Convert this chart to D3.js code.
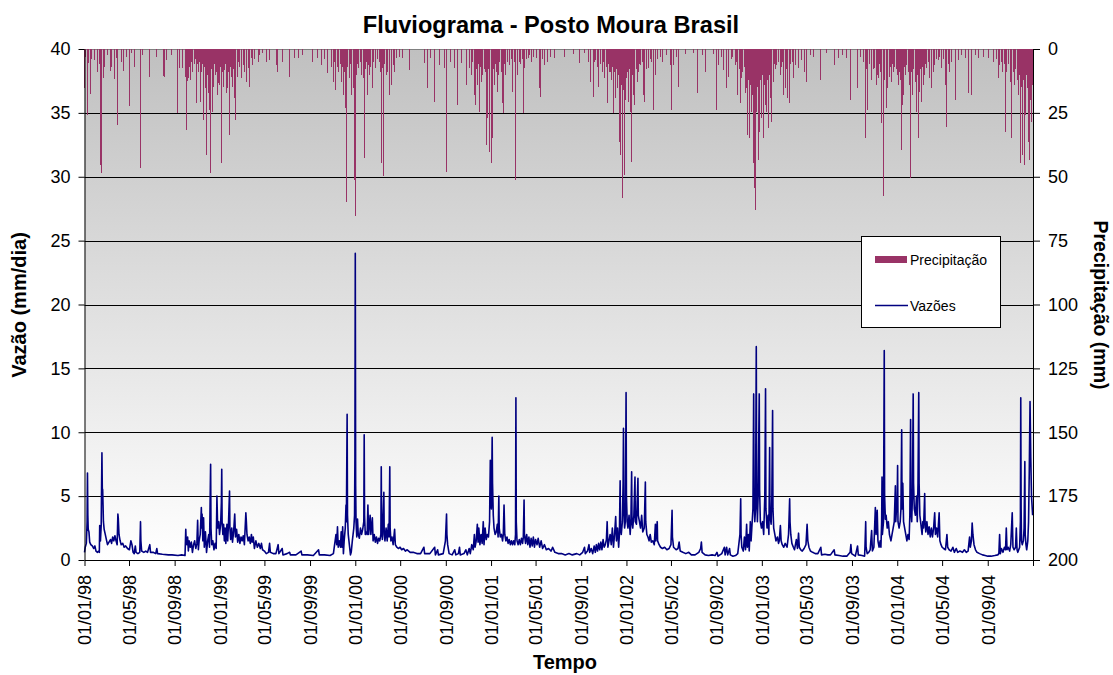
<!DOCTYPE html>
<html><head><meta charset="utf-8">
<script src="https://cdn.jsdelivr.net/npm/d3@7"></script>
<style>body{margin:0;background:#fff} text{font-family:Arial,"Liberation Sans",sans-serif}</style>
</head><body><svg id="c" width="1113" height="675"></svg>
<script>
// ---------------- DATA ----------------
const chartTitle = "Fluviograma - Posto Moura Brasil";
const leftTitle = "Vazão (mm/dia)";
const rightTitle = "Precipitação (mm)";
const xTitle = "Tempo";
const seriesNames = ["Precipitação", "Vazões"];
const leftTicks = [0,5,10,15,20,25,30,35,40];
const rightTicks = [0,25,50,75,100,125,150,175,200];

// Vazões (mm/dia), [MM-DD, value] per year
const flow1998 = [["01-01",0.6],["01-03",1.0],["01-06",1.3],["01-08",3.0],["01-09",6.8],["01-10",3.5],["01-11",2.4],["01-13",2.2],["01-15",1.4],["01-18",1.2],["01-22",1.1],["01-26",0.9],["01-29",1.1],["02-01",0.7],["02-05",0.6],["02-08",0.7],["02-10",0.6],["02-11",2.7],["02-13",1.5],["02-15",2.7],["02-17",8.4],["02-18",5.6],["02-19",5.5],["02-20",4.3],["02-21",3.0],["02-23",2.4],["02-26",2.0],["03-01",1.6],["03-04",1.2],["03-08",1.4],["03-12",1.6],["03-15",1.3],["03-18",1.8],["03-21",1.5],["03-24",1.9],["03-27",1.5],["03-30",1.2],["04-01",3.6],["04-02",3.3],["04-04",2.0],["04-07",1.5],["04-10",1.2],["04-14",1.3],["04-18",1.0],["04-22",1.1],["04-27",0.9],["05-02",0.8],["05-06",1.5],["05-09",1.2],["05-12",0.6],["05-15",0.5],["05-18",1.1],["05-20",0.6],["05-25",0.5],["05-30",0.6],["06-01",3.0],["06-02",1.5],["06-04",0.7],["06-10",0.6],["06-15",0.7],["06-20",0.6],["06-26",1.2],["06-28",0.6],["07-05",0.6],["07-12",0.5],["07-15",0.9],["07-17",0.5],["07-30",0.45],["08-15",0.4],["08-25",0.4],["09-10",0.35],["09-20",0.4],["09-29",0.35],["10-01",2.4],["10-02",1.6],["10-04",1.2],["10-06",1.8],["10-08",0.7],["10-10",1.5],["10-13",1.0],["10-16",1.4],["10-19",0.6],["10-22",1.2],["10-25",1.5],["10-28",0.9],["10-31",1.3],["11-02",3.1],["11-04",0.8],["11-06",1.5],["11-09",2.0],["11-12",4.1],["11-13",2.5],["11-14",3.6],["11-16",1.5],["11-18",3.3],["11-20",1.0],["11-23",2.2],["11-26",0.6],["11-29",1.5],["12-02",2.0],["12-04",1.0],["12-07",7.5],["12-08",2.5],["12-10",1.2],["12-13",1.5],["12-16",0.8],["12-19",1.3],["12-22",0.9],["12-24",5.0],["12-26",2.5],["12-29",3.0],["12-31",2.0]];
const flow1999 = [["01-03",2.8],["01-05",4.5],["01-06",7.1],["01-07",3.0],["01-09",2.0],["01-11",2.8],["01-13",1.5],["01-15",2.5],["01-17",1.3],["01-20",2.8],["01-22",1.5],["01-24",2.7],["01-27",5.4],["01-28",2.5],["01-30",1.6],["02-02",2.5],["02-04",1.4],["02-07",2.2],["02-10",3.6],["02-12",1.8],["02-15",2.4],["02-18",1.4],["02-21",2.0],["02-24",1.3],["02-27",1.8],["03-02",1.5],["03-05",1.9],["03-08",1.2],["03-12",3.7],["03-13",3.2],["03-15",2.0],["03-18",1.5],["03-21",1.8],["03-24",1.3],["03-27",2.0],["03-29",1.4],["04-01",1.8],["04-04",0.9],["04-08",1.5],["04-12",1.0],["04-16",1.3],["04-20",0.9],["04-23",1.3],["04-26",0.8],["05-01",0.7],["05-06",0.5],["05-12",0.6],["05-15",1.3],["05-17",0.6],["05-25",0.5],["06-01",0.5],["06-07",1.2],["06-09",0.5],["06-18",0.9],["06-20",0.4],["07-01",0.5],["07-08",0.6],["07-10",0.4],["07-25",0.4],["08-08",0.7],["08-10",0.4],["08-25",0.4],["09-10",0.35],["09-24",0.8],["09-26",0.4],["10-10",0.4],["10-25",0.35],["11-03",0.5],["11-10",2.0],["11-12",1.2],["11-14",2.6],["11-16",1.0],["11-19",1.5],["11-22",1.0],["11-24",2.2],["11-26",1.0],["11-28",2.6],["11-30",0.5],["12-02",1.5],["12-05",2.5],["12-07",4.3],["12-08",3.0],["12-10",11.4],["12-11",3.5],["12-13",2.0],["12-16",1.2],["12-19",0.4],["12-21",0.6],["12-24",1.5],["12-28",2.5],["12-30",3.5],["12-31",8.0]];
const flow2000 = [["01-01",24.0],["01-02",5.8],["01-03",3.0],["01-05",1.8],["01-07",3.2],["01-09",2.0],["01-12",1.7],["01-15",2.5],["01-18",2.0],["01-21",2.4],["01-24",3.0],["01-25",9.8],["01-26",3.5],["01-28",2.0],["01-30",2.2],["02-02",2.0],["02-04",4.3],["02-06",2.0],["02-10",3.5],["02-12",2.0],["02-16",3.3],["02-18",1.5],["02-21",2.0],["02-24",1.4],["02-27",1.8],["03-01",1.3],["03-04",1.7],["03-07",1.5],["03-10",2.0],["03-11",7.3],["03-12",2.5],["03-14",1.6],["03-18",5.3],["03-19",2.0],["03-21",1.5],["03-24",2.5],["03-27",1.5],["03-30",2.8],["04-01",1.8],["04-03",7.3],["04-04",2.5],["04-06",1.5],["04-09",1.8],["04-12",1.2],["04-16",2.4],["04-18",1.2],["04-22",1.0],["04-26",0.9],["05-01",1.0],["05-05",0.8],["05-10",0.9],["05-15",0.7],["05-20",0.8],["05-28",0.6],["06-05",0.6],["06-15",0.5],["06-25",0.5],["07-04",1.0],["07-06",0.5],["07-20",0.5],["08-02",1.0],["08-04",0.4],["08-10",0.8],["08-12",0.4],["08-25",0.5],["08-31",1.5],["09-03",3.6],["09-04",2.0],["09-06",1.2],["09-10",0.5],["09-18",0.4],["09-25",0.8],["09-28",0.4],["10-05",0.5],["10-08",1.0],["10-10",0.4],["10-20",0.5],["10-25",0.8],["10-29",0.4],["11-03",0.9],["11-06",0.5],["11-10",1.2],["11-14",0.8],["11-17",2.0],["11-19",1.0],["11-22",1.5],["11-25",2.8],["11-27",1.4],["11-29",2.5],["12-02",1.2],["12-05",2.0],["12-08",1.3],["12-11",3.0],["12-13",1.2],["12-16",2.5],["12-19",1.6],["12-22",2.0],["12-25",1.8],["12-28",3.0],["12-30",7.8],["12-31",5.0]];
const flow2001 = [["01-02",4.0],["01-04",9.6],["01-05",6.0],["01-07",3.5],["01-09",2.5],["01-12",2.0],["01-15",2.2],["01-18",2.8],["01-20",1.8],["01-22",5.0],["01-23",2.5],["01-26",1.8],["01-29",2.0],["02-01",1.5],["02-03",2.0],["02-05",4.3],["02-07",2.0],["02-10",1.5],["02-13",1.8],["02-16",1.3],["02-19",1.6],["02-22",1.2],["02-25",1.5],["02-28",1.2],["03-03",1.5],["03-06",1.2],["03-08",2.0],["03-09",12.7],["03-10",3.0],["03-12",1.5],["03-15",1.2],["03-18",1.6],["03-21",1.2],["03-24",1.7],["03-27",1.3],["03-29",1.8],["03-31",4.7],["04-01",2.0],["04-04",1.3],["04-07",2.0],["04-10",1.2],["04-13",1.8],["04-16",1.0],["04-19",1.7],["04-22",1.1],["04-25",1.8],["04-28",1.0],["05-01",1.6],["05-05",1.2],["05-08",1.7],["05-12",1.0],["05-16",1.5],["05-20",0.9],["05-25",1.2],["05-30",0.8],["06-05",0.9],["06-12",0.7],["06-16",1.0],["06-22",0.6],["07-01",0.5],["07-10",0.5],["07-20",0.4],["07-30",0.5],["08-08",0.4],["08-20",0.5],["08-28",0.4],["09-05",0.6],["09-10",1.0],["09-12",0.5],["09-18",0.7],["09-22",1.2],["09-24",0.6],["09-28",0.9],["10-02",0.5],["10-06",1.1],["10-09",0.6],["10-12",1.2],["10-15",0.7],["10-18",1.3],["10-21",0.8],["10-24",1.4],["10-27",0.8],["10-30",1.6],["11-02",1.0],["11-05",1.2],["11-08",1.6],["11-10",3.0],["11-12",1.0],["11-15",1.5],["11-18",2.0],["11-21",1.2],["11-24",2.5],["11-27",1.0],["11-30",2.0],["12-03",3.4],["12-05",1.5],["12-08",2.5],["12-11",1.0],["12-13",2.0],["12-15",6.2],["12-16",2.5],["12-18",2.0],["12-21",3.0],["12-23",6.0],["12-24",10.3],["12-25",4.0],["12-27",2.5],["12-29",3.0],["12-31",13.1]];
const flow2002 = [["01-01",5.0],["01-03",3.0],["01-05",2.5],["01-08",3.5],["01-11",2.0],["01-13",3.0],["01-15",6.9],["01-16",3.0],["01-18",2.5],["01-21",3.5],["01-24",6.5],["01-25",3.0],["01-28",2.8],["02-01",6.4],["02-02",3.5],["02-05",3.0],["02-08",2.5],["02-11",3.5],["02-14",2.2],["02-18",2.5],["02-21",6.1],["02-22",3.0],["02-25",2.0],["02-28",1.8],["03-03",1.5],["03-06",2.0],["03-09",1.4],["03-13",1.5],["03-17",1.2],["03-20",2.8],["03-21",1.5],["03-25",3.0],["03-26",1.5],["03-30",1.2],["04-03",1.0],["04-08",0.9],["04-14",1.0],["04-20",0.8],["04-26",0.9],["05-01",1.2],["05-04",3.9],["05-05",1.8],["05-08",1.0],["05-15",0.8],["05-20",0.9],["05-23",1.4],["05-26",0.7],["06-02",0.6],["06-10",0.5],["06-18",0.6],["06-25",0.4],["07-05",0.4],["07-15",0.6],["07-20",0.9],["07-22",1.4],["07-24",0.6],["08-01",0.4],["08-10",0.35],["08-20",0.4],["08-28",0.35],["09-02",0.6],["09-05",0.3],["09-15",0.5],["09-22",1.0],["09-24",0.4],["09-28",1.0],["10-01",0.4],["10-06",0.9],["10-08",0.4],["10-15",0.3],["10-22",0.35],["10-28",0.5],["11-01",1.5],["11-03",2.0],["11-05",4.8],["11-06",2.0],["11-08",1.0],["11-12",0.7],["11-15",1.8],["11-18",0.8],["11-21",2.8],["11-23",1.0],["11-26",2.0],["11-28",0.7],["12-01",3.0],["12-03",1.5],["12-05",2.5],["12-08",4.0],["12-10",13.0],["12-11",5.0],["12-13",3.0],["12-15",4.0],["12-17",16.7],["12-18",6.0],["12-20",3.0],["12-22",5.0],["12-25",13.0],["12-26",5.5],["12-28",3.0],["12-31",2.5]];
const flow2003 = [["01-03",3.0],["01-06",2.0],["01-09",5.0],["01-11",13.4],["01-12",4.0],["01-15",2.5],["01-18",3.5],["01-20",2.0],["01-22",8.8],["01-23",3.5],["01-26",2.8],["01-28",5.0],["01-30",11.7],["01-31",4.0],["02-02",2.5],["02-05",2.0],["02-08",1.5],["02-12",1.8],["02-15",1.3],["02-17",1.5],["02-20",2.7],["02-22",1.5],["02-25",1.2],["03-01",1.0],["03-05",1.3],["03-10",1.0],["03-14",2.0],["03-17",4.8],["03-18",3.0],["03-20",2.0],["03-23",1.3],["03-27",1.0],["03-30",0.8],["04-04",1.6],["04-07",0.9],["04-10",2.1],["04-12",1.0],["04-16",0.8],["04-20",0.7],["04-25",0.9],["04-30",1.2],["05-03",2.8],["05-05",1.5],["05-08",1.0],["05-12",0.7],["05-18",0.6],["05-25",0.5],["06-01",0.5],["06-09",1.0],["06-11",0.4],["06-20",0.45],["06-28",0.4],["07-05",0.4],["07-15",0.8],["07-17",0.4],["07-28",0.35],["08-08",0.3],["08-18",0.3],["08-27",0.6],["08-29",1.2],["08-31",0.5],["09-10",0.3],["09-16",1.1],["09-18",0.4],["09-28",0.35],["10-05",0.3],["10-06",1.0],["10-08",3.0],["10-09",1.0],["10-12",0.5],["10-16",0.6],["10-20",0.8],["10-24",2.3],["10-26",0.7],["10-30",1.0],["11-03",4.1],["11-05",2.0],["11-08",3.9],["11-10",1.5],["11-13",1.0],["11-16",1.5],["11-18",1.0],["11-20",3.0],["11-21",6.5],["11-22",2.0],["11-25",3.0],["11-27",16.4],["11-28",5.0],["11-30",3.2],["12-02",3.5],["12-05",2.5],["12-08",3.0],["12-11",2.0],["12-15",1.5],["12-18",2.0],["12-21",2.5],["12-24",3.0],["12-27",5.8],["12-28",3.0],["12-30",4.0]];
const flow2004 = [["01-01",5.0],["01-02",7.4],["01-03",3.0],["01-06",2.5],["01-09",3.0],["01-11",4.0],["01-13",10.2],["01-14",4.0],["01-16",6.0],["01-18",3.0],["01-21",2.5],["01-24",2.0],["01-27",1.5],["01-30",2.0],["02-02",1.6],["02-04",3.5],["02-06",11.0],["02-07",4.0],["02-09",3.0],["02-11",5.0],["02-13",13.0],["02-14",6.0],["02-16",4.0],["02-19",3.5],["02-22",5.0],["02-24",3.0],["02-26",6.0],["02-28",13.1],["02-29",6.0],["03-02",3.5],["03-04",3.0],["03-06",2.5],["03-08",2.0],["03-10",3.0],["03-12",2.5],["03-15",5.2],["03-16",3.0],["03-18",2.2],["03-21",3.0],["03-24",2.0],["03-27",2.6],["03-30",1.8],["04-02",2.5],["04-05",1.8],["04-08",2.5],["04-11",3.7],["04-13",2.0],["04-16",2.5],["04-19",1.8],["04-23",3.7],["04-25",1.5],["04-28",1.2],["05-01",1.0],["05-05",0.9],["05-10",0.8],["05-14",2.0],["05-16",1.0],["05-20",0.8],["05-25",0.7],["05-30",1.0],["06-03",0.6],["06-08",0.9],["06-12",0.6],["06-18",0.7],["06-25",0.6],["06-30",0.8],["07-05",0.6],["07-10",0.7],["07-14",1.8],["07-16",1.0],["07-19",1.5],["07-21",2.9],["07-23",2.0],["07-26",1.2],["07-30",0.8],["08-03",0.6],["08-10",0.5],["08-18",0.4],["08-25",0.35],["09-01",0.3],["09-10",0.3],["09-20",0.35],["09-28",0.4],["10-01",0.5],["10-03",2.0],["10-05",0.5],["10-08",0.9],["10-12",0.6],["10-16",1.0],["10-19",0.8],["10-21",2.5],["10-23",0.8],["10-26",1.0],["10-30",0.7],["11-02",1.2],["11-06",3.7],["11-08",1.0],["11-11",0.8],["11-15",1.0],["11-17",2.5],["11-19",0.8],["11-21",0.6],["11-26",1.0],["11-28",3.0],["11-29",12.7],["11-30",4.0],["12-01",1.5],["12-03",1.2],["12-06",1.5],["12-08",2.5],["12-10",7.7],["12-11",2.0],["12-13",1.2],["12-15",0.8],["12-18",1.5],["12-20",3.0],["12-22",7.0],["12-24",12.4],["12-26",8.0],["12-28",5.0],["12-31",3.5]];

// Precipitação (mm), [MM-DD, value] per year
const rain1998 = [["01-02",15.4],["01-05",3.0],["01-08",25.8],["01-12",5.6],["01-17",17.7],["01-20",4.0],["01-27",4.3],["02-06",8.9],["02-10",6.0],["02-12",45.4],["02-14",12.0],["02-16",48.7],["02-17",33.0],["02-20",11.3],["02-23",6.9],["03-05",2.5],["03-13",8.8],["03-15",6.9],["03-22",11.9],["03-24",5.6],["03-28",3.5],["04-01",29.7],["04-10",5.0],["04-17",8.8],["04-24",3.0],["05-03",22.3],["05-09",1.7],["05-16",6.9],["05-31",46.7],["06-06",2.3],["06-24",10.8],["07-14",3.0],["08-03",10.5],["08-05",10.8],["08-10",4.4],["08-23",2.3],["09-10",25.2],["09-15",7.6],["09-22",7.6],["09-29",10.8],["10-01",8.0],["10-03",13.5],["10-04",31.7],["10-06",12.5],["10-09",11.3],["10-11",6.9],["10-14",12.0],["10-17",5.0],["10-20",9.0],["10-24",6.0],["10-27",4.0],["10-31",21.3],["11-02",6.0],["11-05",8.9],["11-08",5.0],["11-10",20.7],["11-13",9.0],["11-15",6.0],["11-18",27.8],["11-20",7.0],["11-22",15.1],["11-24",9.0],["11-26",41.5],["11-28",10.0],["12-01",17.3],["12-04",23.9],["12-06",48.7],["12-09",8.0],["12-11",12.0],["12-13",24.5],["12-15",14.7],["12-18",6.0],["12-20",10.2],["12-23",9.0],["12-26",18.0],["12-29",13.5]];
const rain1999 = [["01-01",14.1],["01-03",7.0],["01-06",44.7],["01-08",9.0],["01-10",14.7],["01-14",8.2],["01-16",6.0],["01-18",17.3],["01-22",15.4],["01-24",9.0],["01-27",33.7],["01-29",7.0],["01-31",10.8],["02-03",6.0],["02-05",14.7],["02-08",8.0],["02-10",19.3],["02-13",27.8],["02-17",10.8],["02-20",5.0],["02-24",7.0],["02-28",11.5],["03-05",6.3],["03-09",8.9],["03-13",12.8],["03-18",7.6],["03-22",14.7],["03-26",3.7],["03-31",6.3],["04-05",4.0],["04-14",5.0],["04-18",2.3],["04-27",1.7],["05-06",5.0],["05-15",4.3],["06-02",6.3],["06-06",8.9],["06-20",5.0],["07-07",10.8],["07-22",3.7],["07-31",3.7],["08-13",2.3],["09-08",5.0],["09-22",3.7],["10-01",6.3],["10-10",4.0],["10-19",9.5],["10-28",6.9],["11-04",12.8],["11-07",5.0],["11-10",16.0],["11-14",7.0],["11-17",8.9],["11-21",6.0],["11-24",12.8],["11-27",7.0],["11-30",18.0],["12-02",9.0],["12-05",23.2],["12-07",8.0],["12-09",59.8],["12-12",7.0],["12-16",11.5],["12-19",6.0],["12-22",18.0],["12-27",15.4],["12-30",51.3]];
const rain2000 = [["01-01",65.2],["01-03",9.0],["01-05",10.2],["01-08",6.0],["01-11",7.6],["01-14",5.0],["01-18",10.2],["01-22",11.5],["01-25",42.8],["01-28",8.0],["01-31",5.0],["02-03",18.0],["02-06",6.3],["02-09",10.2],["02-12",7.0],["02-16",15.4],["02-20",5.0],["02-25",7.6],["03-01",4.0],["03-05",5.0],["03-08",9.0],["03-11",44.7],["03-15",7.6],["03-18",49.6],["03-21",6.0],["03-24",10.2],["03-28",8.9],["04-03",18.0],["04-07",14.1],["04-12",6.3],["04-16",9.0],["04-20",3.7],["04-28",3.0],["05-08",3.7],["05-26",8.2],["07-05",5.6],["07-14",15.4],["07-23",3.7],["08-01",20.6],["08-15",6.3],["08-29",7.6],["09-02",48.0],["09-15",5.0],["09-24",7.6],["10-03",21.9],["10-12",5.6],["10-26",14.1],["11-04",7.6],["11-08",10.2],["11-12",5.0],["11-17",18.0],["11-21",21.9],["11-24",8.0],["11-26",14.1],["11-28",6.0],["12-01",24.5],["12-03",7.0],["12-05",12.8],["12-07",5.0],["12-10",10.2],["12-13",8.0],["12-16",9.0],["12-19",37.6],["12-21",10.0],["12-23",27.1],["12-25",8.0],["12-28",40.2]];
const rain2001 = [["01-03",44.7],["01-04",35.0],["01-07",8.0],["01-10",14.1],["01-13",6.0],["01-16",9.0],["01-19",16.7],["01-22",10.0],["01-25",5.0],["01-28",8.9],["02-01",21.3],["02-04",25.2],["02-07",6.0],["02-10",10.2],["02-14",5.0],["02-19",6.3],["02-24",4.0],["02-28",16.7],["03-04",5.0],["03-09",51.3],["03-14",10.2],["03-18",5.0],["03-22",6.0],["03-26",4.0],["03-30",25.2],["04-02",7.6],["04-06",4.0],["04-11",3.7],["04-15",2.5],["04-20",5.0],["04-26",3.0],["05-03",3.7],["05-11",15.4],["05-15",18.7],["05-20",4.0],["05-25",6.3],["06-02",5.0],["06-10",3.0],["06-20",3.7],["07-17",3.0],["08-10",2.0],["08-27",5.6],["09-09",1.7],["09-22",5.0],["09-26",12.8],["10-03",18.7],["10-06",5.0],["10-10",4.3],["10-14",7.0],["10-19",14.7],["10-23",6.0],["10-28",8.9],["11-01",5.0],["11-04",11.5],["11-07",7.0],["11-10",21.3],["11-13",6.0],["11-16",9.0],["11-19",8.9],["11-22",12.0],["11-25",7.0],["11-28",25.2],["12-01",9.0],["12-03",19.3],["12-05",8.0],["12-07",15.4],["12-10",10.0],["12-12",36.3],["12-14",12.0],["12-16",41.5],["12-18",9.0],["12-20",14.1],["12-22",58.4],["12-24",16.0],["12-26",12.0],["12-28",49.3],["12-30",20.0]];
const rain2002 = [["01-01",11.5],["01-03",9.0],["01-06",20.6],["01-09",8.0],["01-12",24.5],["01-15",44.1],["01-17",10.0],["01-19",18.0],["01-22",9.0],["01-24",21.9],["01-27",8.0],["01-30",12.8],["02-02",9.0],["02-05",6.0],["02-08",6.3],["02-12",5.0],["02-17",18.0],["02-20",20.6],["02-24",8.0],["03-02",7.6],["03-06",4.0],["03-10",5.0],["03-16",23.9],["03-21",10.2],["03-26",4.0],["04-03",3.0],["04-08",5.0],["04-18",2.5],["04-30",6.3],["05-03",23.9],["05-09",6.3],["05-15",3.0],["05-21",14.7],["06-10",2.0],["07-01",1.7],["07-12",17.4],["07-25",2.3],["08-03",8.9],["08-25",2.0],["09-02",23.9],["09-07",6.3],["09-13",3.0],["09-20",8.2],["09-29",15.4],["10-03",10.8],["10-10",4.0],["10-15",3.0],["10-21",6.3],["10-25",5.0],["10-28",18.0],["11-01",8.0],["11-04",21.3],["11-06",6.0],["11-08",11.5],["11-11",9.0],["11-14",7.0],["11-17",17.4],["11-19",8.0],["11-21",15.4],["11-24",33.7],["11-27",12.0],["11-30",35.0],["12-02",14.0],["12-04",24.5],["12-07",18.0],["12-09",44.7],["12-11",20.0],["12-13",54.5],["12-16",63.0],["12-18",24.5],["12-20",15.0],["12-23",43.4],["12-25",18.0],["12-27",32.4],["12-29",12.0]];
const rain2003 = [["01-01",27.1],["01-03",10.0],["01-06",35.0],["01-08",14.0],["01-10",21.9],["01-12",9.0],["01-14",24.5],["01-16",12.0],["01-19",31.0],["01-21",10.0],["01-24",19.3],["01-26",9.0],["01-28",28.4],["02-01",12.8],["02-04",6.0],["02-07",8.0],["02-10",6.3],["02-14",5.0],["02-19",10.2],["02-22",7.0],["02-25",5.0],["02-28",18.0],["03-05",15.4],["03-08",8.0],["03-11",19.3],["03-16",21.3],["03-20",6.0],["03-24",5.0],["03-27",11.5],["04-01",6.3],["04-09",7.6],["04-18",4.3],["04-27",8.9],["05-02",12.8],["05-11",2.3],["05-20",3.0],["06-09",12.1],["06-25",1.7],["07-15",6.3],["07-28",3.7],["08-07",2.3],["08-16",3.7],["08-28",20.0],["09-15",15.4],["09-25",3.0],["10-03",5.0],["10-07",35.0],["10-10",8.0],["10-14",23.9],["10-18",6.0],["10-23",12.0],["10-28",8.0],["11-02",7.6],["11-05",14.0],["11-08",10.0],["11-11",11.5],["11-14",6.0],["11-17",9.0],["11-20",29.0],["11-24",21.9],["11-26",57.4],["11-29",12.0],["12-02",23.2],["12-05",9.0],["12-07",15.4],["12-11",10.8],["12-13",7.0],["12-16",12.8],["12-19",6.0],["12-22",9.0],["12-25",6.9],["12-29",8.0]];
const rain2004 = [["01-01",10.0],["01-04",14.1],["01-07",9.0],["01-10",12.0],["01-12",39.5],["01-14",21.9],["01-16",10.0],["01-18",18.0],["01-20",7.0],["01-23",10.2],["01-27",6.3],["02-01",8.9],["02-03",14.1],["02-05",50.6],["02-08",9.0],["02-10",12.0],["02-12",18.0],["02-15",8.0],["02-18",12.8],["02-20",7.0],["02-22",24.5],["02-24",10.0],["02-27",35.0],["03-02",16.7],["03-04",8.0],["03-07",20.6],["03-09",7.0],["03-11",14.1],["03-15",10.2],["03-17",6.0],["03-20",7.6],["03-24",5.0],["03-29",11.5],["04-02",15.4],["04-07",8.9],["04-11",6.3],["04-15",4.0],["04-20",4.3],["04-25",3.0],["04-29",7.6],["05-04",4.0],["05-09",14.1],["05-13",30.4],["05-18",6.0],["05-22",8.9],["05-27",5.0],["06-05",20.0],["06-14",4.3],["06-23",2.3],["07-02",3.7],["07-12",17.4],["07-20",18.0],["07-29",2.3],["08-07",3.7],["08-21",3.0],["09-03",3.7],["09-16",5.0],["09-24",4.0],["09-30",11.5],["10-04",6.3],["10-08",5.0],["10-12",9.0],["10-16",6.0],["10-20",32.4],["10-22",8.9],["10-26",6.0],["10-31",12.8],["11-02",7.0],["11-05",35.0],["11-09",9.0],["11-13",14.1],["11-16",8.0],["11-19",12.0],["11-22",18.0],["11-26",10.2],["11-28",44.7],["12-01",15.0],["12-03",41.5],["12-06",12.0],["12-09",45.4],["12-12",25.8],["12-14",10.0],["12-16",15.4],["12-19",36.3],["12-21",12.0],["12-23",43.4],["12-25",20.0],["12-27",28.4],["12-30",14.1]];

// ---------------- BUILD ----------------
const parse = d3.utcParse("%Y-%m-%d");
const build = (yr, arr) => arr.map(d => ({date: parse(yr + "-" + d[0]), value: d[1]}));
const flow = [].concat(build(1998,flow1998), build(1999,flow1999), build(2000,flow2000), build(2001,flow2001), build(2002,flow2002), build(2003,flow2003), build(2004,flow2004));
const rain = [].concat(build(1998,rain1998), build(1999,rain1999), build(2000,rain2000), build(2001,rain2001), build(2002,rain2002), build(2003,rain2003), build(2004,rain2004));

const W = 1113, H = 675;
const P = {left: 84.5, right: 1033, top: 49, bottom: 560};
const svg = d3.select("#c");
svg.append("rect").attr("width", W).attr("height", H).attr("fill", "#fff");

const start = new Date(Date.UTC(1998,0,1)), end = new Date(Date.UTC(2005,0,1));
const x = d3.scaleUtc().domain([start, end]).range([P.left, P.right]);
const yL = d3.scaleLinear().domain([0, 40]).range([P.bottom, P.top]);
const yR = d3.scaleLinear().domain([0, 200]).range([P.top, P.bottom]);

// background gradient
const defs = svg.append("defs");
const g = defs.append("linearGradient").attr("id", "bg").attr("x1", 0).attr("y1", 0).attr("x2", 0).attr("y2", 1);
g.append("stop").attr("offset", "0%").attr("stop-color", "#c0c0c0");
g.append("stop").attr("offset", "100%").attr("stop-color", "#ffffff");
svg.append("rect").attr("x", P.left).attr("y", P.top).attr("width", P.right - P.left).attr("height", P.bottom - P.top).attr("fill", "url(#bg)");

// gridlines
svg.append("g").selectAll("line").data(leftTicks.filter(v => v > 0 && v < 40)).join("line")
  .attr("x1", P.left).attr("x2", P.right)
  .attr("y1", d => Math.round(yL(d)) + 0.5).attr("y2", d => Math.round(yL(d)) + 0.5)
  .attr("stroke", "#000").attr("stroke-width", 1);
svg.append("line").attr("x1", P.left).attr("x2", P.right).attr("y1", P.top + 0.5).attr("y2", P.top + 0.5).attr("stroke", "#808080");

// precipitation bars
svg.append("g").attr("shape-rendering", "crispEdges").selectAll("rect").data(rain).join("rect")
  .attr("x", d => x(d.date) - 0.5).attr("width", 1)
  .attr("y", yR(0)).attr("height", d => yR(d.value) - yR(0))
  .attr("fill", "#993366");

// flow line
svg.append("path").datum(flow)
  .attr("d", d3.line().x(d => x(d.date)).y(d => yL(d.value)))
  .attr("fill", "none").attr("stroke", "#000080").attr("stroke-width", 1.6).attr("stroke-linejoin", "round");

// axes
const fs = "18px";
const axL = svg.append("g").attr("transform", `translate(${P.left},0)`)
  .call(d3.axisLeft(yL).tickValues(leftTicks).tickSize(6).tickSizeOuter(0).tickPadding(8));
const axR = svg.append("g").attr("transform", `translate(${P.right},0)`)
  .call(d3.axisRight(yR).tickValues(rightTicks).tickSize(7).tickSizeOuter(0).tickPadding(8));
const xTicks = d3.utcMonth.every(4).range(start, new Date(Date.UTC(2004,9,1)));
const fmt = d3.utcFormat("%d/%m/%y");
const axB = svg.append("g").attr("transform", `translate(0,${P.bottom})`)
  .call(d3.axisBottom(x).tickValues(xTicks.concat([end])).tickSize(6).tickSizeOuter(0)
    .tickFormat(d => +d === +end ? "" : fmt(d)));
axB.selectAll("text").attr("transform", "rotate(-90)").attr("x", -15).attr("y", 0).attr("dy", "0.35em").style("text-anchor", "end");
[axL, axR, axB].forEach(a => {
  a.selectAll("text").style("font-size", fs).style("font-family", "Arial, 'Liberation Sans', sans-serif").attr("fill", "#000");
  a.selectAll("line").attr("stroke", "#000");
  a.select(".domain").attr("stroke", "#000");
});

// titles
svg.append("text").attr("x", 551).attr("y", 33).attr("text-anchor", "middle")
  .style("font-size", "23.6px").style("font-weight", "bold").text(chartTitle);
svg.append("text").attr("x", 565).attr("y", 669).attr("text-anchor", "middle")
  .style("font-size", "20px").style("font-weight", "bold").text(xTitle);
svg.append("text").attr("transform", "translate(26,305) rotate(-90)").attr("text-anchor", "middle")
  .style("font-size", "20px").style("font-weight", "bold").text(leftTitle);
svg.append("text").attr("transform", "translate(1094,305) rotate(90)").attr("text-anchor", "middle")
  .style("font-size", "19.5px").style("font-weight", "bold").text(rightTitle);

// legend
const lg = svg.append("g");
lg.append("rect").attr("x", 861.5).attr("y", 236.5).attr("width", 139).attr("height", 91)
  .attr("fill", "#fff").attr("stroke", "#000");
lg.append("rect").attr("x", 875).attr("y", 256).attr("width", 32).attr("height", 7).attr("fill", "#993366");
lg.append("text").attr("x", 910).attr("y", 264.5).style("font-size", "14px").text(seriesNames[0]);
lg.append("line").attr("x1", 875).attr("x2", 908).attr("y1", 305.5).attr("y2", 305.5).attr("stroke", "#000080").attr("stroke-width", 1.5);
lg.append("text").attr("x", 910).attr("y", 310.5).style("font-size", "14px").text(seriesNames[1]);
</script></body></html>
